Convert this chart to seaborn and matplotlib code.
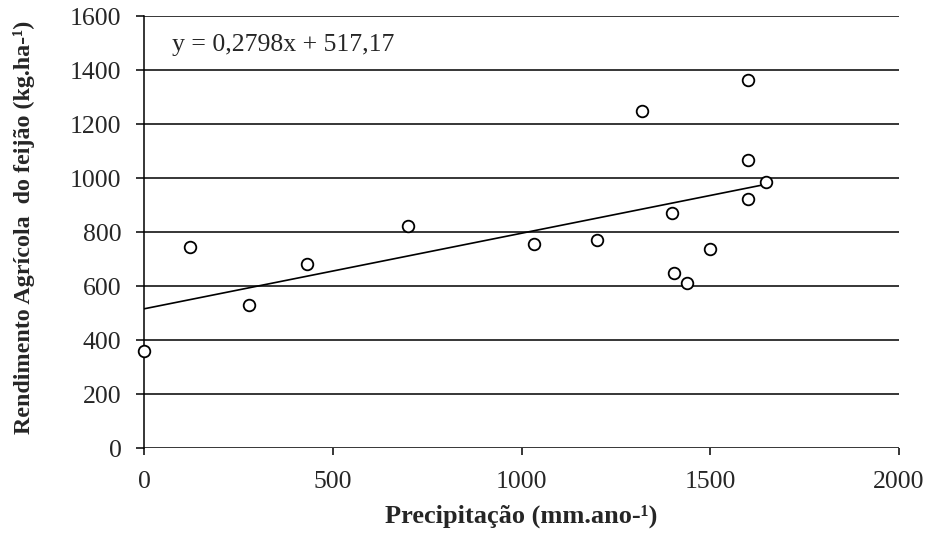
import matplotlib
matplotlib.use("Agg")
import matplotlib.pyplot as plt
import seaborn as sns
import numpy as np
import pandas as pd

# Precipitação anual (mm) e rendimento do feijão (kg/ha)
precipitacao = [0, 120, 278, 432, 699, 1034, 1199, 1319, 1399, 1404, 1439, 1499, 1599, 1599, 1599, 1649]
rendimento = [360, 746, 531, 684, 824, 756, 772, 1250, 872, 648, 614, 737, 1365, 1067, 924, 988]

# Reta de regressão linear
inclinacao = 0.2798
intercepto = 517.17

x_ticks = [0, 500, 1000, 1500, 2000]
y_ticks = [0, 200, 400, 600, 800, 1000, 1200, 1400, 1600]

sns.set_style("white")
plt.rcParams["font.family"] = ["Liberation Serif", "DejaVu Serif"]

FS = 18.5

df = pd.DataFrame({"precipitacao": precipitacao, "rendimento": rendimento})

fig = plt.figure(figsize=(9.29, 5.35), dpi=100)
ax = fig.add_axes([0.1555, 0.162, 0.812, 0.8072])

for yv in y_ticks:
    ax.axhline(yv, color="black", lw=1.1, zorder=1)

x_linha = np.array([0, max(precipitacao)])
reta = pd.DataFrame({"x": x_linha, "y": inclinacao * x_linha + intercepto})
sns.lineplot(data=reta, x="x", y="y", ax=ax, color="black", lw=1.2, zorder=2)

sns.scatterplot(data=df, x="precipitacao", y="rendimento", ax=ax,
                marker="o", s=70, facecolor="white", edgecolor="black",
                linewidth=1.3, zorder=3, clip_on=False)

ax.set_xlim(0, 2000)
ax.set_ylim(0, 1600)
ax.set_xticks(x_ticks)
ax.set_yticks(y_ticks)
ax.set_xticklabels([str(v) for v in x_ticks], fontsize=FS)
ax.set_yticklabels([str(v) for v in y_ticks], fontsize=FS)

for s in ["top", "right", "bottom"]:
    ax.spines[s].set_visible(False)
ax.spines["left"].set_linewidth(1.1)
ax.spines["left"].set_color("black")

ax.tick_params(axis="y", direction="out", length=5.5, width=1.1, color="black", pad=11, left=True)
ax.tick_params(axis="x", direction="out", length=5, width=1.1, color="black", pad=11, bottom=True)

ax.set_xlabel("Precipitação (mm.ano-¹)", fontsize=19, fontweight="bold", labelpad=9)
ax.set_ylabel("Rendimento Agrícola  do feijão (kg.ha-¹)", fontsize=17.3, fontweight="bold")
ax.yaxis.label.set_va("center")
ax.yaxis.set_label_coords(-0.16, 0.5125)

ax.text(0.036, 0.935, "y = 0,2798x + 517,17", transform=ax.transAxes,
        fontsize=FS, ha="left", va="center")

fig.savefig("out.png", dpi=100)
